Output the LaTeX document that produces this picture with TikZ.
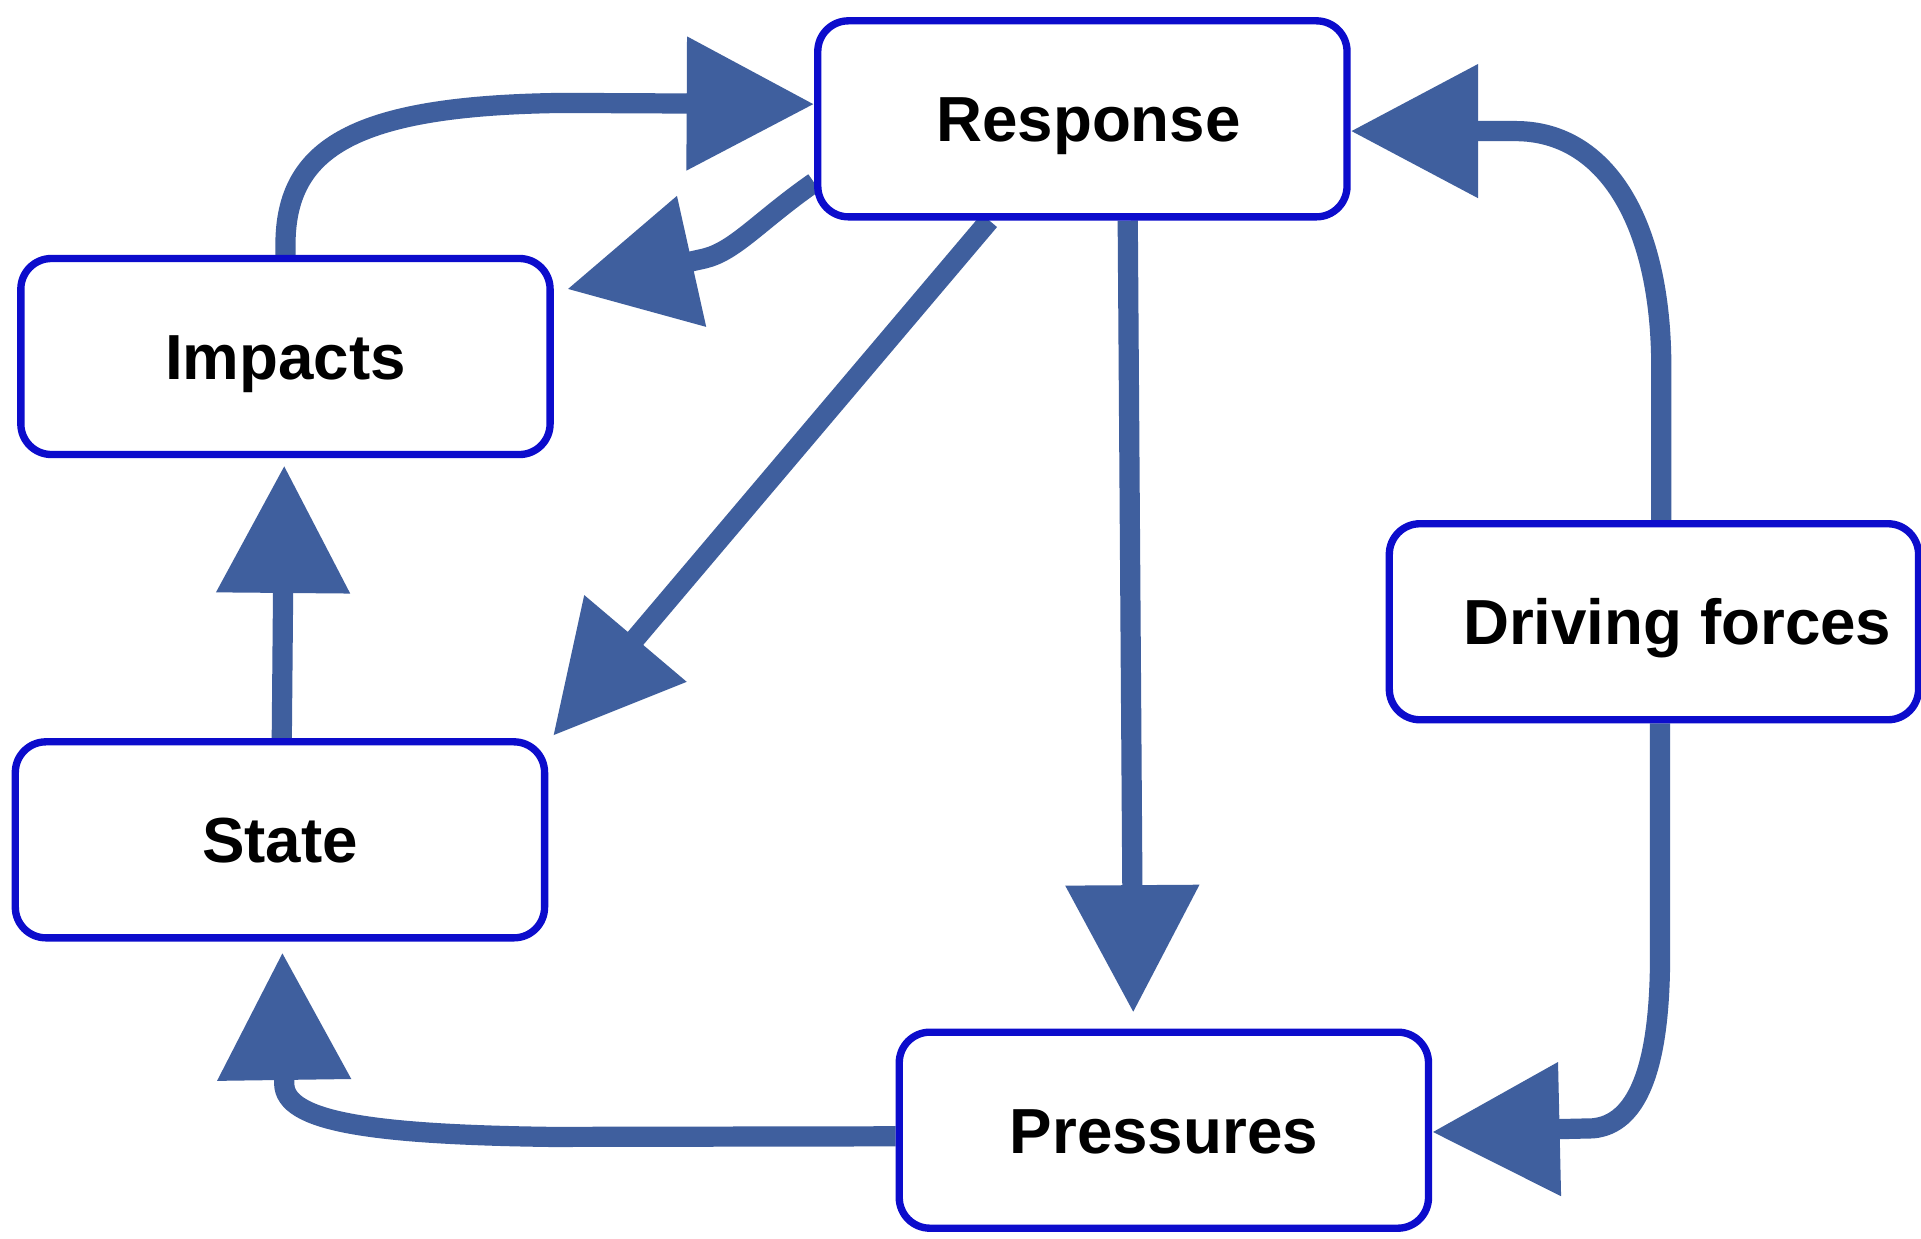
\documentclass[tikz,border=0pt]{standalone}
\usepackage{fontspec}
\setmainfont{Liberation Sans}
\usetikzlibrary{arrows.meta,calc}
\definecolor{arrowblue}{RGB}{63,95,158}
\definecolor{boxblue}{RGB}{12,12,204}
\pgfdeclarelayer{bg}
\pgfsetlayers{bg,main}
\begin{document}
\begin{tikzpicture}[x=1pt,y=-1pt,
  box/.style={draw=boxblue, line width=6pt, rounded corners=25pt, fill=white,
    minimum width=432pt, minimum height=160pt, inner sep=0pt,
    font=\fontsize{52}{60}\selectfont\bfseries, text height=37.5pt, text depth=0pt},
  flow/.style={draw=arrowblue, line width=16.5pt, -{Triangle[length=104pt,width=105pt]}}
]
\useasboundingbox (0,0) rectangle (1568,1011);

\node[box] (resp) at (883.5,97) {\hspace*{10pt}Response};
\node[box] (imp)  at (233,291) {Impacts};
\node[box] (st)   at (228.5,685.5) {State};
\node[box] (drv)  at (1350,507.5) {\hspace*{38pt}Driving forces};
\node[box] (pres) at (950,922.5) {Pressures};

\begin{pgfonlayer}{bg}
\fill[white] (0,0) rectangle (1568,1011);
% Impacts -> Response
\draw[flow] (imp.north) -- (233,200) .. controls (233,120) and (290,86) .. (460,84)
   -- ($(resp.west)+(0,-12)$);
% Response -> Impacts
\draw[flow] ($(resp.west)+(0,52)$) .. controls (620,180) and (600,205) .. (575,211)
   -- ($(imp.east)+(11,-55)$);
% Response -> State
\draw[flow] ($(resp.south)+(-76,0)$) -- ($(st.north east)+(4,-2)$);
% Response -> Pressures
\draw[flow] ($(resp.south)+(37,0)$) -- ($(pres.north)+(-25,-13)$);
% Driving forces -> Response
\draw[flow] ($(drv.north)+(6,0)$) -- (1356,300) .. controls (1356,180) and (1310,107) .. (1237,107)
   -- ($(resp.east)+(0,10)$);
% Driving forces -> Pressures
\draw[flow] ($(drv.south)+(5,0)$) -- (1355,780) .. controls (1355,875) and (1335,918) .. (1300,921)
   -- ($(pres.east)+(0,1.5)$);
% Pressures -> State
\draw[flow] ($(pres.west)+(0,5)$) -- (450,928) .. controls (300,926) and (233,915) .. (232,885)
   -- ($(st.south)+(2,9)$);
% State -> Impacts
\draw[flow] ($(st.north)+(1.5,0)$) -- ($(imp.south)+(-1,6)$);
\end{pgfonlayer}
\end{tikzpicture}
\end{document}
